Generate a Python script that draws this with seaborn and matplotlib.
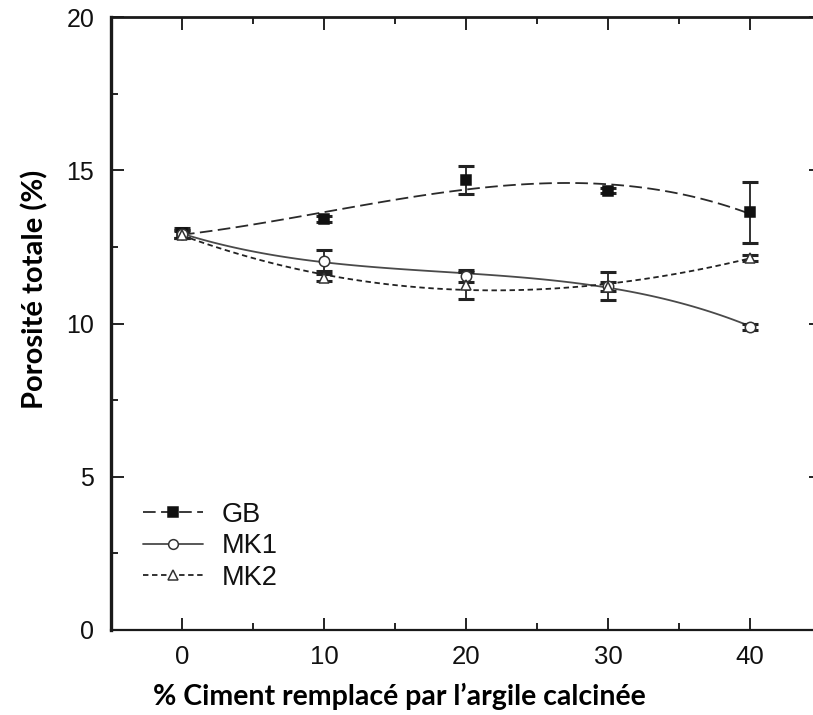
import numpy as np
import pandas as pd
import seaborn as sns
import matplotlib.pyplot as plt
from matplotlib.lines import Line2D
from matplotlib.ticker import MultipleLocator

# Substitution rate of cement by calcined clay (%)
substitution = [0, 10, 20, 30, 40]

# Total porosity (%) and standard deviation for each mix
gb_porosity = [12.95, 13.42, 14.69, 14.33, 13.63]
gb_err = [0.15, 0.10, 0.46, 0.08, 1.00]

mk1_porosity = [12.92, 12.05, 11.56, 11.22, 9.90]
mk1_err = [0.12, 0.35, 0.20, 0.45, 0.10]

mk2_porosity = [12.90, 11.50, 11.24, 11.20, 12.15]
mk2_err = [0.12, 0.10, 0.45, 0.15, 0.10]

series_names = ["GB", "MK1", "MK2"]
x_ticks = [0, 10, 20, 30, 40]
y_ticks = [0, 5, 10, 15, 20]

df = pd.concat([
    pd.DataFrame({"x": substitution, "y": gb_porosity, "err": gb_err, "mix": "GB"}),
    pd.DataFrame({"x": substitution, "y": mk1_porosity, "err": mk1_err, "mix": "MK1"}),
    pd.DataFrame({"x": substitution, "y": mk2_porosity, "err": mk2_err, "mix": "MK2"}),
])

sns.set_theme(style="ticks")
plt.rcParams["font.family"] = ["Liberation Sans", "DejaVu Sans"]

fig = plt.figure(figsize=(8.13, 7.15), dpi=100)
ax = fig.add_axes([0.1365, 0.1189, 0.8733, 0.8573])

styles = {
    "GB": dict(ls=(0, (7, 3)), color="#2a2a2a", marker="s", mfc="#111111", mec="#111111"),
    "MK1": dict(ls="-", color="#4a4a4a", marker="o", mfc="white", mec="#333333"),
    "MK2": dict(ls=(0, (3, 2)), color="#222222", marker="^", mfc="white", mec="#333333"),
}

for name in series_names:
    d = df[df["mix"] == name]
    st = styles[name]
    # smoothed trend through the measurements
    sns.regplot(data=d, x="x", y="y", order=3, ci=None, scatter=False, ax=ax,
                line_kws=dict(color=st["color"], lw=1.3, ls=st["ls"]))
    ax.errorbar(d["x"], d["y"], yerr=d["err"], fmt="none", ecolor="#222222",
                elinewidth=1.3, capsize=5.5, capthick=2.2, zorder=3)
    ax.plot(d["x"], d["y"], ls="none", marker=st["marker"], ms=7.5,
            mfc=st["mfc"], mec=st["mec"], mew=1.1, zorder=4)

ax.set_xlim(-5, 45)
ax.set_ylim(0, 20)
ax.set_xticks(x_ticks)
ax.set_yticks(y_ticks)
ax.xaxis.set_minor_locator(MultipleLocator(5))
ax.yaxis.set_minor_locator(MultipleLocator(2.5))
ax.tick_params(which="both", direction="in", top=True, right=True, color="#222222", width=1.4)
ax.tick_params(which="major", length=9)
ax.tick_params(which="minor", length=5)
ax.tick_params(axis="y", which="major", pad=12, labelsize=18, labelcolor="#111111")
ax.tick_params(axis="x", which="major", pad=11, labelsize=18.5, labelcolor="#111111")

for side, lw in {"left": 2.4, "bottom": 1.6, "top": 2.0, "right": 2.0}.items():
    ax.spines[side].set_visible(True)
    ax.spines[side].set_linewidth(lw)
    ax.spines[side].set_color("#1a1a1a")

ax.set_xlabel("% Ciment remplacé par l\u2019argile calcinée", fontsize=20.5,
              fontweight="bold", family=["Lato", "DejaVu Sans"], color="black")
ax.set_ylabel("Porosité totale (%)", fontsize=21, fontweight="bold",
              family=["Lato", "DejaVu Sans"], color="black")
ax.xaxis.set_label_coords(0.4056, -0.086)
ax.yaxis.set_label_coords(-0.088, 0.556)

handles = []
for name in series_names:
    st = styles[name]
    handles.append(Line2D([], [], color=st["color"], lw=1.3, ls=st["ls"], marker=st["marker"],
                          ms=7, mfc=st["mfc"], mec=st["mec"], mew=1.1))
leg = ax.legend(handles, series_names, loc="upper left", bbox_to_anchor=(0.045, 0.209),
                frameon=False, fontsize=19.5, handlelength=2.2, handletextpad=0.72,
                labelspacing=0.2, borderpad=0, borderaxespad=0)
for t in leg.get_texts():
    t.set_color("#111111")

fig.savefig("out.png", dpi=100)
